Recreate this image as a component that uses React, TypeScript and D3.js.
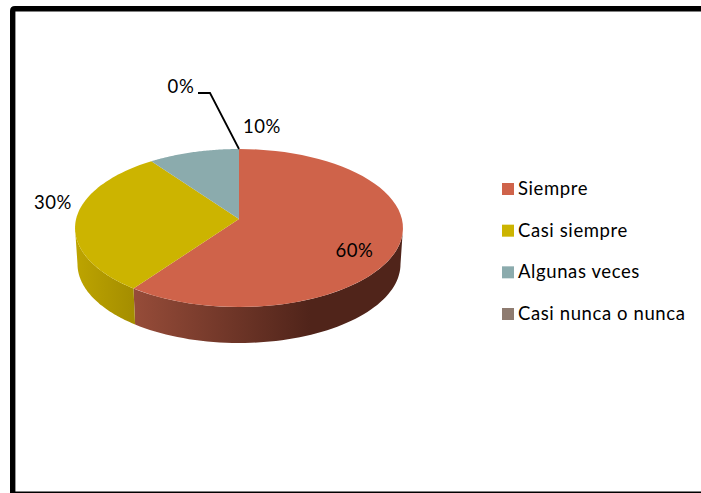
import { useEffect, useRef } from 'react';
import * as d3 from 'd3';

const categories = ['Siempre', 'Casi siempre', 'Algunas veces', 'Casi nunca o nunca'];
const values = [60, 30, 10, 0];
const percentLabels = ['60%', '30%', '10%', '0%'];
const topColors = ['#cf634a', '#ccb400', '#8babad', '#8e7b70'];

const width = 701;
const height = 493;
const fontFamily = 'Lato, Carlito, sans-serif';

export default function App() {
  const svgRef = useRef<SVGSVGElement>(null);

  useEffect(() => {
    if (!svgRef.current) return;

    const svg = d3.select(svgRef.current);
    svg.selectAll('*').remove();

    // Frame: heavy on the left and top, hairline along the bottom
    svg.append('path')
      .attr('d', 'M12.7,493V11Q12.7,8.7 15,8.7H701')
      .attr('fill', 'none')
      .attr('stroke', '#000')
      .attr('stroke-width', 5.4);
    svg.append('line')
      .attr('x1', 10).attr('x2', width)
      .attr('y1', 492.2).attr('y2', 492.2)
      .attr('stroke', '#000')
      .attr('stroke-width', 1.6);

    // Tilted disc: a projective map of the unit circle, the apex sits above the ellipse centre
    const cx = 239;
    const apexY = 219;
    const tilt = -0.114;
    const rx = 162.9;
    const ry = 53;
    const depth = 36;
    const baseShrink = 0.985;

    const project = (a: number, base = false): [number, number] => {
      const u = Math.sin(a);
      const v = -Math.cos(a);
      const w = 1 + tilt * v;
      const x = (rx * u) / w;
      const y = (ry * v + apexY) / w;
      return base ? [cx + x * baseShrink, y + depth] : [cx + x, y];
    };

    const rim = (a0: number, a1: number, base = false) =>
      d3.range(0, 61).map(i => project(a0 + ((a1 - a0) * i) / 60, base));

    const line = d3.line();

    const arcs = d3.pie<number>().sort(null).value(d => d)(values);

    const defs = svg.append('defs');
    const gradient = (id: string, x1: number, x2: number, from: string, to: string) => {
      const g = defs.append('linearGradient')
        .attr('id', id)
        .attr('gradientUnits', 'userSpaceOnUse')
        .attr('x1', x1).attr('x2', x2)
        .attr('y1', 0).attr('y2', 0);
      g.append('stop').attr('offset', 0).attr('stop-color', from);
      g.append('stop').attr('offset', 1).attr('stop-color', to);
    };
    gradient('side-0', 134, 310, '#964c39', '#50241a');
    gradient('side-1', 76, 135, '#bda400', '#a48d00');

    // Side wall, only the part of the rim facing the viewer
    const frontStart = Math.acos(tilt);
    const frontEnd = 2 * Math.PI - frontStart;
    arcs.forEach((d, i) => {
      const a0 = Math.max(d.startAngle, frontStart);
      const a1 = Math.min(d.endAngle, frontEnd);
      if (a1 <= a0) return;
      const pts = [...rim(a0, a1), ...rim(a0, a1, true).reverse()];
      svg.append('path')
        .attr('d', line(pts) + 'Z')
        .attr('fill', `url(#side-${i})`);
    });

    // Top face
    arcs.forEach((d, i) => {
      if (d.endAngle <= d.startAngle) return;
      const pts: [number, number][] = [[cx, apexY], ...rim(d.startAngle, d.endAngle)];
      svg.append('path')
        .attr('d', line(pts) + 'Z')
        .attr('fill', topColors[i]);
    });

    // Leader line for the empty slice
    const leaderEnd = project(arcs[3].startAngle);
    svg.append('path')
      .attr('d', line([[198, 93], [210, 93], leaderEnd]))
      .attr('fill', 'none')
      .attr('stroke', '#000')
      .attr('stroke-width', 1.8);

    // Data labels
    const labelAnchors: [number, number][] = [[354.5, 257], [53, 209], [262, 133], [181, 93]];
    percentLabels.forEach((t, i) => {
      svg.append('text')
        .attr('x', labelAnchors[i][0])
        .attr('y', labelAnchors[i][1])
        .attr('text-anchor', 'middle')
        .attr('font-family', fontFamily)
        .attr('font-size', 18.5)
        .attr('letter-spacing', 0.6)
        .attr('fill', '#000')
        .text(t);
    });

    // Legend
    const legendY = d3.scalePoint<string>()
      .domain(categories)
      .range([189, 314]);
    categories.forEach((c, i) => {
      const y = legendY(c) as number;
      svg.append('rect')
        .attr('x', 502)
        .attr('y', y - 6)
        .attr('width', 12)
        .attr('height', 12)
        .attr('fill', topColors[i]);
      svg.append('text')
        .attr('x', 518)
        .attr('y', y + 6)
        .attr('font-family', fontFamily)
        .attr('font-size', 18.5)
        .attr('letter-spacing', 0.6)
        .attr('fill', '#000')
        .text(c);
    });
  }, []);

  return (
    <svg
      ref={svgRef}
      width={width}
      height={height}
      style={{ position: 'absolute', left: 0, top: 0, background: '#fff' }}
    />
  );
}
